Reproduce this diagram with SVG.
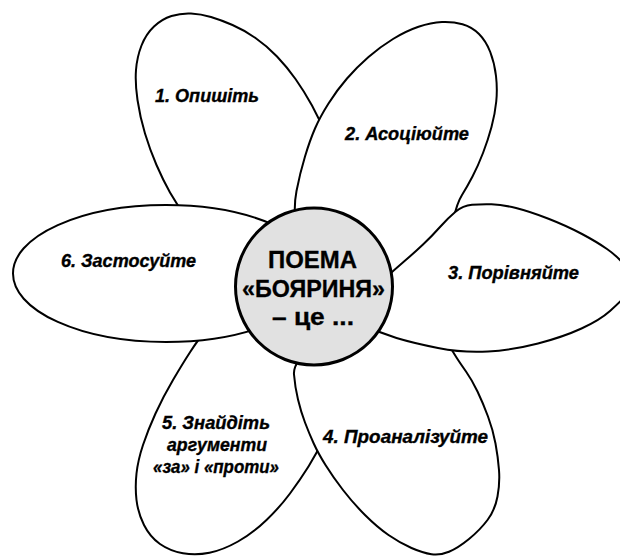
<svg xmlns="http://www.w3.org/2000/svg" width="620" height="556" viewBox="0 0 620 556">
<style>
.petal{fill:#ffffff;stroke:#000000;stroke-width:2;stroke-linejoin:round}
.core{fill:#e1e1e1;stroke:#000000;stroke-width:3}
.lbl{font-family:"Liberation Sans",Arial,Helvetica,sans-serif;font-weight:bold;font-style:italic;font-size:18px;fill:#000000;stroke:#000000;stroke-width:0.35}
.ctr{font-family:"Liberation Sans",Arial,Helvetica,sans-serif;font-weight:bold;font-size:23px;fill:#000000;stroke:#000000;stroke-width:0.3}
</style>
<rect width="620" height="556" fill="#ffffff"/>
<g id="petal-1">
<path class="petal" d="M186,216.5 Q177,205 170,192.5 Q163,180 156.5,165 Q150,150 145,133.5 Q140,117 137.5,100 Q135,83 136,70 Q137,57 141.5,45.5 Q146,34 154,26.5 Q162,19 171.5,16 Q181,13 191,13.5 Q201,14 211,17 Q221,20 232.5,25 Q244,30 255.5,38 Q267,46 277,56.5 Q287,67 295.5,79 Q304,91 312,105.5 Q320,120 327,137.5 Q334,155 335,177.5 Q336,200 328,222.5 Q320,245 307.5,257.5 Q295,270 277.5,267.5 Q260,265 242.5,256.5 Q225,248 210,238 Q195,228 186,216.5 Z"/>
<text class="lbl" x="155" y="102" textLength="104" lengthAdjust="spacingAndGlyphs">1. Опишіть</text>
</g>
<g id="petal-5">
<path class="petal" d="M203,334 Q198,340 190.5,351.5 Q183,363 173,380 Q163,397 155.5,413.5 Q148,430 143,445 Q138,460 136.5,473.5 Q135,487 136.5,500 Q138,513 144,525 Q150,537 160,544 Q170,551 183,553.25 Q196,555.5 209.5,552.75 Q223,550 238,541.5 Q253,533 266.5,520 Q280,507 290,493.5 Q300,480 308.5,466.5 Q317,453 324.5,436.5 Q332,420 327,400 Q322,380 306,357.5 Q290,335 262.5,328.5 Q235,322 221.5,325 Q208,328 203,334 Z"/>
<text class="lbl" x="162" y="429" textLength="108" lengthAdjust="spacingAndGlyphs">5. Знайдіть</text>
<text class="lbl" x="167" y="451" textLength="100" lengthAdjust="spacingAndGlyphs">аргументи</text>
<text class="lbl" x="153" y="473" textLength="126" lengthAdjust="spacingAndGlyphs">«за» і «проти»</text>
</g>
<g id="petal-2">
<path class="petal" d="M296.5,229.5 Q293,209 296.5,191 Q300,173 305,156.5 Q310,140 315,128.5 Q320,117 328.5,103.5 Q337,90 347,78.5 Q357,67 368.5,57 Q380,47 393,39 Q406,31 418.5,26.75 Q431,22.5 442,22 Q453,21.5 462.5,24.25 Q472,27 479,34 Q486,41 490.25,52 Q494.5,63 496,76 Q497.5,89 496.25,101.5 Q495,114 491.5,127 Q488,140 483,153 Q478,166 472.5,176.5 Q467,187 462,195 Q457,203 453.5,219 Q450,235 437.5,248.5 Q425,262 402.5,271 Q380,280 357.5,277.5 Q335,275 317.5,262.5 Q300,250 296.5,229.5 Z"/>
<text class="lbl" x="345" y="140" textLength="124" lengthAdjust="spacingAndGlyphs">2. Асоціюйте</text>
</g>
<g id="petal-4">
<path class="petal" d="M311.5,348.5 Q293,362 294,374.5 Q295,387 298,399.5 Q301,412 305,422.5 Q309,433 313.5,443 Q318,453 325.5,465 Q333,477 343,490 Q353,503 365,515 Q377,527 388.5,535 Q400,543 411.5,548 Q423,553 431.5,554.25 Q440,555.5 449,551.75 Q458,548 469,539 Q480,530 487.5,520 Q495,510 497.5,496.5 Q500,483 499,470 Q498,457 495.5,443.5 Q493,430 488,416.5 Q483,403 477.5,391.5 Q472,380 466,371.5 Q460,363 456.5,357.5 Q453,352 446.5,341 Q440,330 417.5,324 Q395,318 362.5,326.5 Q330,335 311.5,348.5 Z"/>
<text class="lbl" x="323" y="443" textLength="165" lengthAdjust="spacingAndGlyphs">4. Проаналізуйте</text>
</g>
<g id="petal-3">
<path class="petal" d="M363.5,293 Q375,288 384.5,279 Q394,270 404,261.5 Q414,253 423,244.5 Q432,236 440,227 Q448,218 455.5,211.75 Q463,205.5 472,204.75 Q481,204 491.5,204.25 Q502,204.5 516,208 Q530,211.5 548.5,218.75 Q567,226 582,234 Q597,242 607,249 Q617,256 623.5,264 Q630,272 630.5,281 Q631,290 625.5,296 Q620,302 610,311 Q600,320 581.5,328.5 Q563,337 538,343.5 Q513,350 488,351.5 Q463,353 438,348 Q413,343 396.5,338 Q380,333 365,325.5 Q350,318 351,308 Q352,298 363.5,293 Z"/>
<text class="lbl" x="448" y="279" textLength="131" lengthAdjust="spacingAndGlyphs">3. Порівняйте</text>
</g>
<g id="petal-6">
<ellipse class="petal" cx="166" cy="273.5" rx="153" ry="68.5"/>
<text class="lbl" x="61" y="267" textLength="135" lengthAdjust="spacingAndGlyphs">6. Застосуйте</text>
</g>
<g id="center">
<circle class="core" cx="314" cy="286.5" r="78.5"/>
<text class="ctr" x="268" y="268" textLength="89" lengthAdjust="spacingAndGlyphs">ПОЕМА</text>
<text class="ctr" x="242" y="297" textLength="143" lengthAdjust="spacingAndGlyphs">«БОЯРИНЯ»</text>
<text class="ctr" x="272" y="325" textLength="82" lengthAdjust="spacingAndGlyphs">– це ...</text>
</g>
<g id="connectors"/>
</svg>
